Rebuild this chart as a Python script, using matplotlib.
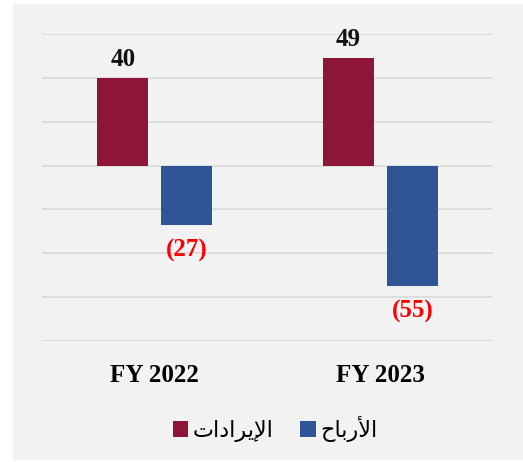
import numpy as np
import matplotlib.pyplot as plt
from matplotlib.patches import Rectangle

# data
years = ['FY 2022', 'FY 2023']
revenue = [40, 49]
profit = [-27, -55]
series_names = ['الإيرادات', 'الأرباح']

# simple arabic shaping (matplotlib has no bidi/shaping)
FORMS = {
    'ا': ('\ufe8d', '\ufe8e', None, None),
    'أ': ('\ufe83', '\ufe84', None, None),
    'إ': ('\ufe87', '\ufe88', None, None),
    'ر': ('\ufead', '\ufeae', None, None),
    'د': ('\ufea9', '\ufeaa', None, None),
    'ل': ('\ufedd', '\ufede', '\ufedf', '\ufee0'),
    'ي': ('\ufef1', '\ufef2', '\ufef3', '\ufef4'),
    'ت': ('\ufe95', '\ufe96', '\ufe97', '\ufe98'),
    'ب': ('\ufe8f', '\ufe90', '\ufe91', '\ufe92'),
    'ح': ('\ufea1', '\ufea2', '\ufea3', '\ufea4'),
}
LAM_ALEF = {'أ': ('\ufef7', '\ufef8'), 'إ': ('\ufef9', '\ufefa'), 'ا': ('\ufefb', '\ufefc')}


def shape(word):
    out = []
    i = 0
    prev = False
    while i < len(word):
        c = word[i]
        if c == 'ل' and i + 1 < len(word) and word[i + 1] in LAM_ALEF:
            out.append(LAM_ALEF[word[i + 1]][1 if prev else 0])
            prev = False
            i += 2
            continue
        iso, fin, ini, med = FORMS[c]
        nxt = ini is not None and i + 1 < len(word)
        if prev and nxt:
            g = med
        elif prev:
            g = fin
        elif nxt:
            g = ini
        else:
            g = iso
        out.append(g)
        prev = nxt
        i += 1
    return ''.join(reversed(out))


maroon = '#8e1538'
blue = '#2f5597'
bg = '#f2f2f2'

fig = plt.figure(figsize=(5.23, 4.62), dpi=100)
fig.patches.append(Rectangle((13 / 523, 2 / 462), 1, 456 / 462, transform=fig.transFigure,
                             facecolor=bg, edgecolor='none', zorder=-10))

ax = fig.add_axes([42 / 523, 121 / 462, 451 / 523, 307 / 462])
ax.set_facecolor('none')

x = np.arange(len(years))
w = 0.225
off = 0.142
ax.bar(x - off, revenue, w, color=maroon, label=shape(series_names[0]), zorder=3)
ax.bar(x + off, profit, w, color=blue, label=shape(series_names[1]), zorder=3)

ax.set_ylim(-80, 60)
ax.set_xlim(-0.5, 1.5)
ax.set_yticks(np.arange(-80, 61, 20))
ax.yaxis.grid(True, color='#d9d9d9', linewidth=1.2)
ax.set_axisbelow(True)
ax.tick_params(left=False, bottom=False, labelleft=False)
for s in ax.spines.values():
    s.set_visible(False)

ax.set_xticks(x)
ax.set_xticklabels(years, fontfamily='Liberation Serif', fontweight='bold', fontsize=18)
ax.tick_params(axis='x', pad=13)

for xi, v in zip(x, revenue):
    ax.annotate(str(v), (xi - off, v), xytext=(0, 5), textcoords='offset points',
                ha='center', va='bottom', fontfamily='Liberation Serif',
                fontweight='bold', fontsize=18, color='#111111')
for xi, v in zip(x, profit):
    ax.annotate('(%d)' % abs(v), (xi + off, v), xytext=(0, -10), textcoords='offset points',
                ha='center', va='top', fontfamily='Liberation Serif',
                fontweight='bold', fontsize=18, color='#ff0000')

fig.legend(loc='center', bbox_to_anchor=(275 / 523, 1 - 429 / 462), ncol=2,
           frameon=False, prop={'family': 'DejaVu Sans', 'size': 16},
           handlelength=0.7, handleheight=0.7, columnspacing=1.2, handletextpad=0.2)

plt.savefig('out.png', dpi=100)
